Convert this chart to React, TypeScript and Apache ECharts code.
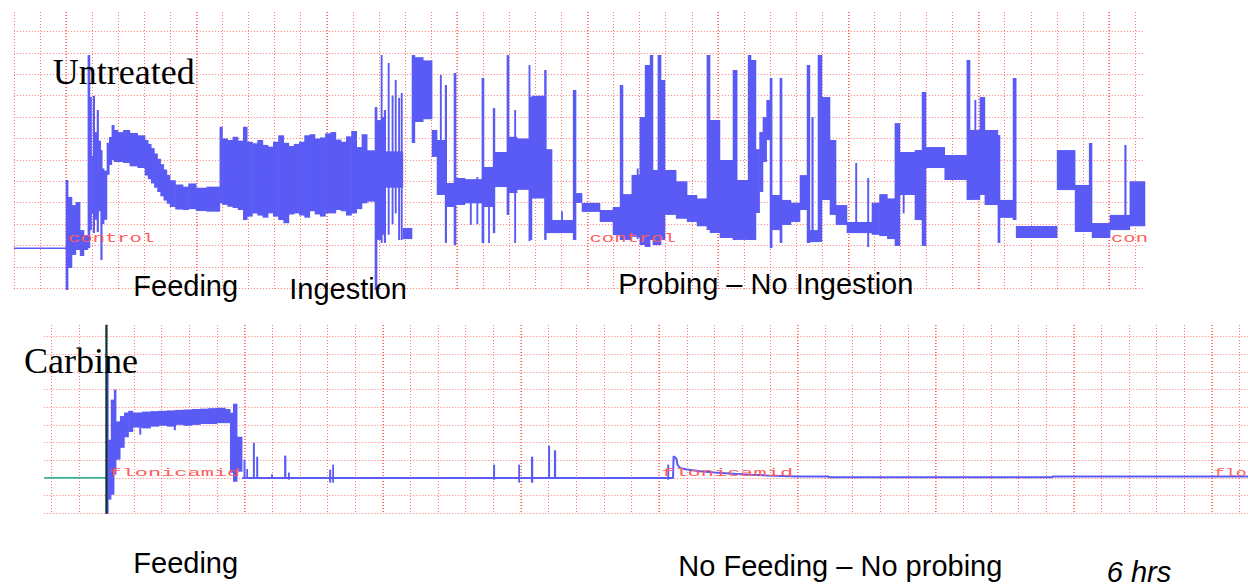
import React, { useEffect, useRef } from 'react';
import * as echarts from 'echarts';

// Units: x = minor grid divisions (0 = start of recording), y = grid divisions (0 = baseline)
// Each band item: [xStart, xEnd, low, high]

const topPreTrace: number[][] = [[-2, -0.13], [0, -0.13]];

const topFeeding: number[][] = [
  [0, 0.08, -2.08, 3.06], [0.08, 0.23, -1.05, 2.27], [0.23, 0.38, -0.44, 1.89], [0.38, 0.54, -0.21, 2.03],
  [0.54, 0.69, -0.49, 0.72], [0.69, 0.84, -0.21, 0.49], [0.84, 0.92, -0.12, 8.9], [0.92, 0.98, 0.72, 6.94],
  [0.98, 1.04, 1.5, 4.2], [1.04, 1.1, 0.58, 6.99], [1.1, 1.19, 1.2, 5.3], [1.19, 1.25, 0.63, 6.33],
  [1.25, 1.33, 1.6, 4.9], [1.33, 1.39, -0.68, 4.46], [1.39, 1.46, 1.0, 3.6], [1.46, 1.57, 1.2, 3.5],
  [1.57, 1.66, 3.3, 4.8], [1.66, 1.76, 3.76, 5.07], [1.76, 1.85, 4.0, 5.63], [1.85, 1.99, 3.9, 5.4],
  [1.99, 2.2, 3.9, 5.3], [2.2, 2.45, 3.85, 5.4], [2.45, 2.75, 3.7, 5.26], [2.75, 3.03, 3.62, 5.15],
  [3.03, 3.15, 3.27, 4.93], [3.15, 3.27, 3.1, 4.75], [3.27, 3.39, 2.9, 4.55], [3.39, 3.51, 2.7, 4.3],
  [3.51, 3.63, 2.5, 4.05], [3.63, 3.75, 2.3, 3.8], [3.75, 3.87, 2.1, 3.55], [3.87, 3.99, 1.95, 3.3],
  [3.99, 4.2, 1.8, 3.05], [4.2, 4.49, 1.68, 2.85], [4.49, 4.7, 1.66, 2.75], [4.7, 4.99, 1.7, 2.9],
  [4.99, 5.4, 1.61, 2.7], [5.4, 5.9, 1.58, 2.75],
];

const topIngestion: number[][] = [
  [5.9, 6.0, 1.97, 5.55], [6.0, 6.2, 1.9, 5.0], [6.2, 6.4, 1.81, 4.93], [6.4, 6.6, 1.75, 5.08],
  [6.6, 6.8, 1.66, 4.9], [6.8, 6.95, 1.19, 5.55], [6.95, 7.15, 1.35, 4.85], [7.15, 7.35, 1.5, 4.78],
  [7.35, 7.55, 1.4, 4.93], [7.55, 7.75, 1.3, 4.7], [7.75, 7.95, 1.5, 4.62], [7.95, 8.15, 1.35, 4.85],
  [8.15, 8.35, 1.19, 5.15], [8.35, 8.55, 1.04, 4.8], [8.55, 8.75, 1.45, 4.65], [8.75, 8.95, 1.5, 4.75],
  [8.95, 9.15, 1.4, 4.85], [9.15, 9.35, 1.3, 5.15], [9.35, 9.55, 1.6, 5.2], [9.55, 9.75, 1.45, 5.0],
  [9.75, 9.95, 1.35, 5.05], [9.95, 10.15, 1.5, 5.24], [10.15, 10.35, 1.5, 5.3], [10.35, 10.55, 1.66, 4.95],
  [10.55, 10.75, 1.6, 4.85], [10.75, 10.95, 1.4, 5.1], [10.95, 11.15, 1.5, 5.35], [11.15, 11.35, 1.7, 4.6],
  [11.35, 11.55, 1.97, 5.2], [11.55, 11.85, 2.05, 4.45],
];

const topProbing: number[][] = [
  [11.85, 11.93, -2.08, 6.47], [11.93, 12.08, 0.26, 5.86], [12.08, 12.13, 0.12, 8.9], [12.13, 12.2, 0.5, 6.0],
  [12.2, 12.92, 2.7, 4.4], [12.2, 12.26, 0.12, 6.33], [12.35, 12.4, 0.5, 8.53], [12.5, 12.55, 1.0, 7.0],
  [12.62, 12.67, 1.5, 7.73], [12.75, 12.8, 0.26, 6.9], [12.85, 12.9, 0.26, 7.13], [12.92, 13.27, 0.3, 0.82],
  [13.27, 13.38, 4.79, 8.9], [13.38, 13.7, 5.77, 8.8], [13.7, 14.04, 5.9, 8.65], [14.04, 14.23, 4.14, 5.4],
  [14.23, 14.54, 2.36, 4.93], [14.35, 14.4, 2.36, 7.97], [14.54, 14.6, 0.12, 7.5], [14.6, 14.88, 1.8, 2.92],
  [14.88, 14.96, 0.02, 8.06], [14.96, 15.3, 1.89, 3.15], [15.3, 15.95, 1.97, 3.1], [15.5, 15.55, 0.96, 3.0],
  [15.75, 15.8, 1.0, 3.2], [15.95, 16.03, 0.12, 7.83], [16.03, 16.38, 1.8, 3.67], [16.2, 16.24, 0.12, 3.3],
  [16.38, 16.45, 0.58, 6.42], [16.45, 16.91, 2.73, 4.37], [16.91, 16.99, 1.43, 8.9], [16.99, 17.3, 2.45, 5.08],
  [17.2, 17.25, 0.12, 6.33], [17.3, 17.8, 2.6, 5.0], [17.75, 17.8, 0.2, 8.43], [17.8, 17.87, 0.26, 6.94],
  [17.87, 18.4, 2.2, 7.0], [18.35, 18.42, 0.26, 8.2], [18.42, 18.64, 0.58, 4.5], [18.64, 19.45, 0.58, 1.19],
  [19.0, 19.04, 0.58, 1.6], [19.45, 19.56, 0.26, 7.27], [19.56, 19.79, 1.99, 2.45], [19.79, 20.48, 1.57, 1.99],
  [20.48, 20.98, 1.1, 1.66], [20.98, 21.25, 0.49, 1.8], [21.25, 21.36, 0.26, 7.5], [21.36, 21.7, 0.26, 2.4],
  [21.7, 22.01, 0.4, 3.3], [21.9, 21.95, 0.3, 3.6], [22.01, 22.21, 0.02, 6.0], [22.21, 22.4, -0.07, 8.43],
  [22.4, 22.51, 0.26, 8.9], [22.51, 22.7, 0.02, 3.53], [22.7, 22.82, 0.02, 8.9], [22.82, 22.97, 0.26, 7.73],
  [22.97, 23.4, 1.43, 3.53], [23.4, 23.82, 1.25, 3.0], [23.82, 24.2, 1.1, 2.36], [24.2, 24.58, 0.9, 2.2],
  [24.58, 24.7, 0.72, 8.9], [24.7, 25.08, 0.58, 5.86], [25.08, 25.58, 0.35, 4.0], [25.58, 25.74, 0.26, 8.2],
  [25.74, 26.16, 0.26, 3.06], [26.16, 26.27, 0.26, 8.9], [26.27, 26.46, 0.26, 8.67], [26.46, 26.6, 1.52, 4.5],
  [26.6, 26.73, 2.5, 5.3], [26.73, 26.87, 3.9, 6.0], [26.87, 27.0, 4.93, 6.8], [27.0, 27.08, -0.12, 7.83],
  [27.08, 27.38, 0.72, 2.36], [27.38, 27.46, 0.12, 7.83], [27.46, 27.8, 0.96, 2.13], [27.8, 28.15, 1.1, 2.0],
  [28.15, 28.42, 1.66, 3.29], [28.42, 28.53, 0.12, 8.43], [28.53, 28.84, 0.16, 0.72], [28.6, 28.66, 0.16, 6.0],
  [28.84, 28.99, 0.16, 8.9], [28.99, 29.3, 2.13, 6.94], [29.3, 29.53, 1.43, 4.93], [29.53, 29.95, 0.96, 1.89],
  [29.95, 30.91, 0.58, 1.1], [30.28, 30.33, 0.58, 3.86], [30.74, 30.79, -0.07, 3.15], [30.91, 31.2, 0.5, 2.0],
  [31.2, 31.5, 0.44, 2.4], [31.5, 31.79, 0.3, 2.2], [31.79, 31.98, -0.02, 5.72], [31.98, 32.56, 2.36, 4.37],
  [32.1, 32.15, 1.5, 4.37], [32.56, 32.83, 1.19, 4.46], [32.83, 32.98, -0.02, 7.17], [32.98, 33.7, 3.62, 4.6],
  [33.7, 34.55, 3.06, 4.23], [34.55, 34.67, 2.13, 8.67], [34.67, 35.05, 2.13, 5.4], [34.85, 34.9, 2.2, 6.8],
  [35.05, 35.24, 2.36, 6.94], [35.24, 35.74, 1.89, 5.4], [35.74, 35.82, 0.12, 5.16], [35.82, 36.32, 1.29, 2.13],
  [36.32, 36.44, 1.19, 7.83], [36.44, 38.01, 0.35, 0.91], [38.01, 38.7, 2.59, 4.46], [38.7, 39.24, 0.63, 2.83],
  [39.24, 39.35, 0.63, 4.79], [39.35, 40.04, 0.35, 1.05], [40.04, 40.8, 0.72, 1.43], [40.6, 40.66, 0.9, 4.7],
  [40.8, 41.38, 0.9, 3.0],
];

const botPreTrace: number[][] = [[-2.247, 0], [0, 0]];
const botMarker: number[][] = [[0, -2.03], [0, 8.67]];

const botFeeding: number[][] = [
  [0, 0.07, -2.03, 5.96], [0.07, 0.17, -1.23, 2.16], [0.17, 0.28, -0.95, 4.43], [0.28, 0.35, 0.18, 5.0],
  [0.35, 0.5, 1.03, 3.2], [0.5, 0.65, 1.7, 3.5], [0.65, 0.8, 2.3, 3.7], [0.8, 0.96, 2.6, 3.8],
  [0.96, 1.3, 2.85, 3.7], [1.2, 1.25, 2.45, 3.7], [1.3, 1.6, 2.8, 3.75], [1.6, 1.9, 2.9, 3.78],
  [1.9, 2.2, 2.95, 3.8], [2.2, 2.5, 2.9, 3.82], [2.45, 2.5, 2.7, 3.8], [2.5, 2.8, 3.0, 3.85],
  [2.8, 3.1, 2.95, 3.87], [3.1, 3.4, 3.0, 3.9], [3.4, 3.7, 3.05, 3.92], [3.7, 4.0, 3.05, 3.95],
  [4.0, 4.3, 3.1, 3.97], [4.3, 4.48, 3.1, 3.9], [4.48, 4.59, 0.29, 3.69], [4.59, 4.73, -0.22, 4.2],
  [4.73, 4.91, 0.35, 2.33],
];

const botSpikes: number[][] = [
  [4.97, 5.02, -0.05, 1.03], [5.07, 5.1, -0.05, 0.5], [5.31, 5.36, -0.05, 1.99], [5.43, 5.48, -0.05, 1.2],
  [5.97, 6.01, -0.05, 0.2], [6.44, 6.5, -0.05, 1.26], [6.58, 6.62, -0.1, 0.3], [8.07, 8.12, -0.27, 0.46],
  [8.18, 8.22, -0.27, 0.75], [14.0, 14.05, -0.1, 0.75], [14.91, 14.95, -0.27, 0.75], [15.37, 15.43, -0.27, 1.2],
  [15.99, 16.04, -0.05, 1.82], [16.2, 16.26, -0.05, 1.56], [20.3, 20.35, -0.1, 0.75],
];

const botTrace: number[][] = [
  [4.91, 0.0], [20.5, 0.0], [20.52, 1.22], [20.62, 1.1], [20.66, 0.75], [20.75, 0.56], [21.0, 0.48],
  [21.48, 0.37], [22.0, 0.3], [22.67, 0.24], [23.3, 0.18], [23.9, 0.14], [24.98, 0.08], [26.1, 0.08],
  [26.15, 0.03], [34.2, 0.03], [34.25, 0.08], [41.3, 0.08],
];

const topMarkLabels = [{ x: 0, text: 'control' }, { x: 20, text: 'control' }, { x: 40, text: 'con' }];
const botMarkLabels = [{ x: 0, text: 'flonicamid' }, { x: 20, text: 'flonicamid' }, { x: 40, text: 'flo' }];

const BLUE = '#5a5af5';
const GRID_RED = 'rgba(255,70,70,0.72)';

const renderBand = (color: string) => (_p: any, api: any) => {
  const a = api.coord([api.value(0), api.value(3)]);
  const b = api.coord([api.value(1), api.value(2)]);
  return {
    type: 'rect',
    shape: {
      x: a[0] - 0.3, y: a[1],
      width: Math.max(b[0] - a[0], 1.2) + 0.6,
      height: Math.max(b[1] - a[1], 1.5),
    },
    style: { fill: color },
  };
};

const hiddenParts = { axisLine: { show: false }, axisTick: { show: false }, axisLabel: { show: false } };

function vAxis(grid: number, min: number, max: number, interval: number, bold: boolean) {
  return {
    type: 'value', gridIndex: grid, min, max, interval, ...hiddenParts,
    splitLine: {
      show: true,
      lineStyle: bold
        ? { color: 'rgba(255,80,80,0.75)', width: 1.6, type: [1, 2] }
        : { color: GRID_RED, width: 1, type: [1, 2] },
    },
  };
}
function plainAxis(grid: number, min: number, max: number) {
  return { type: 'value', gridIndex: grid, min, max, ...hiddenParts, splitLine: { show: false } };
}
function hAxis(grid: number, min: number, max: number) {
  return {
    type: 'value', gridIndex: grid, min, max, interval: 1, ...hiddenParts,
    splitLine: { show: true, lineStyle: { color: GRID_RED, width: 1, type: [1, 2] } },
  };
}

const TU = 26.075;
const BU = 27.64;

const serif = '"Liberation Serif", "Times New Roman", serif';
const sans = '"Liberation Sans", Arial, sans-serif';
const mono = '"Liberation Mono", "Courier New", monospace';

function txt(x: number, y: number, text: string, size: number, family: string, extra: any = {}) {
  return {
    type: 'text', x, y, z: 100,
    ...(extra.scaleX ? { scaleX: extra.scaleX } : {}),
    style: {
      text, fontSize: size, fontFamily: family, fill: extra.fill || '#000', verticalAlign: 'middle',
      fontStyle: extra.italic ? 'italic' : 'normal',
    },
  };
}

export default function App() {
  const ref = useRef<HTMLDivElement>(null);
  useEffect(() => {
    document.body.style.margin = '0';
    const chart = echarts.init(ref.current!, null, { renderer: 'svg' });
    const option: any = {
      animation: false,
      backgroundColor: '#fff',
      grid: [
        { left: 13.85, top: 31.5, width: 43.38 * TU, height: 12 * 21.4 },
        { left: 13.85, top: 12, width: 43 * TU, height: 278 },
        { left: 13.85 + 2 * TU, top: 12, width: 40 * TU, height: 278 },
        { left: 44.3, top: 336.6, width: 1203.7, height: 10 * 17.66 },
        { left: 106.4 - 2 * BU, top: 325, width: 43 * BU, height: 189 },
        { left: 106.4, top: 325, width: 40 * BU, height: 189 },
      ],
      xAxis: [
        plainAxis(0, -2, 41.38),
        vAxis(1, -2, 41, 1, false),
        vAxis(2, 0, 40, 5, true),
        plainAxis(3, -2.247, 41.3),
        vAxis(4, -2, 41, 1, false),
        vAxis(5, 0, 40, 5, true),
      ],
      yAxis: [
        hAxis(0, -2, 10),
        plainAxis(1, 0, 1),
        plainAxis(2, 0, 1),
        hAxis(3, -2, 8),
        plainAxis(4, 0, 1),
        plainAxis(5, 0, 1),
      ],
      series: [
        {
          type: 'line', xAxisIndex: 0, yAxisIndex: 0, data: topPreTrace, symbol: 'none',
          lineStyle: { color: BLUE, width: 1.6 }, clip: false,
        },
        {
          type: 'custom', xAxisIndex: 0, yAxisIndex: 0, clip: false,
          data: [...topFeeding, ...topIngestion, ...topProbing],
          encode: { x: [0, 1], y: [2, 3] }, renderItem: renderBand(BLUE),
        },
        {
          type: 'line', xAxisIndex: 3, yAxisIndex: 3, data: botPreTrace, symbol: 'none',
          lineStyle: { color: '#38b596', width: 1.6 }, clip: false,
        },
        {
          type: 'line', xAxisIndex: 3, yAxisIndex: 3, data: botTrace, symbol: 'none',
          lineStyle: { color: BLUE, width: 2 }, clip: false,
        },
        {
          type: 'custom', xAxisIndex: 3, yAxisIndex: 3, clip: false,
          data: [...botFeeding, ...botSpikes],
          encode: { x: [0, 1], y: [2, 3] }, renderItem: renderBand(BLUE),
        },
        {
          type: 'line', xAxisIndex: 3, yAxisIndex: 3, data: botMarker, symbol: 'none',
          lineStyle: { color: '#0d3535', width: 2.2 }, clip: false, z: 5,
        },
      ],
      graphic: [
        ...topMarkLabels.map((l) => txt(66 + l.x * TU + 2, 238.5, l.text, 13, mono, { fill: '#ff5c5c', scaleX: 1.58 })),
        ...botMarkLabels.map((l) => txt(106.4 + l.x * BU + 2, 473, l.text, 11, mono, { fill: '#ff5c5c', scaleX: l.text.length < 5 ? 1.65 : 2.0 })),
        txt(52.7, 72, 'Untreated', 36, serif),
        txt(24, 361, 'Carbine', 36, serif),
        txt(133.3, 286, 'Feeding', 29, sans),
        txt(289.3, 289, 'Ingestion', 29, sans),
        txt(618.3, 284, 'Probing – No Ingestion', 29, sans),
        txt(133.3, 563, 'Feeding', 29, sans),
        txt(678.3, 566, 'No Feeding – No probing', 29, sans),
        txt(1106.7, 572, '6 hrs', 29, sans, { italic: true }),
      ],
    };
    chart.setOption(option);
    return () => chart.dispose();
  }, []);
  return <div ref={ref} style={{ width: 1248, height: 588 }} />;
}
